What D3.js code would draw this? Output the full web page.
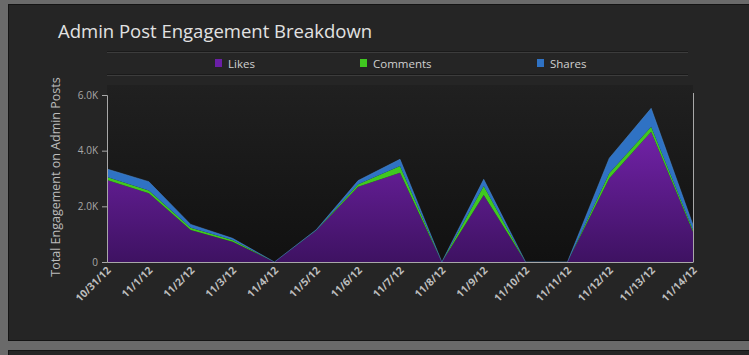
<!DOCTYPE html>
<html><head><meta charset="utf-8">
<script src="https://cdn.jsdelivr.net/npm/d3@7"></script>
<style>
html,body{margin:0;padding:0;background:#6a6a6a;}
svg{display:block;}
</style></head>
<body>
<svg id="c" width="749" height="355"></svg>
<script>
const dates = ["10/31/12","11/1/12","11/2/12","11/3/12","11/4/12","11/5/12","11/6/12","11/7/12","11/8/12","11/9/12","11/10/12","11/11/12","11/12/12","11/13/12","11/14/12"];
const likes    = [2950, 2470, 1150, 730, 0, 1130, 2700, 3210, 0, 2410, 0, 0, 3010, 4680, 1090];
const comments = [ 100,   95,   80,  60, 0,   10,   95,  240, 0,  320, 0, 0,  180,  180,   60];
const shares   = [ 290,  320,  120,  60, 0,   20,  130,  240, 0,  240, 0, 0,  540,  660,  180];
const seriesNames = ["Likes","Comments","Shares"];
const yTicks = [0, 2000, 4000, 6000];
const yTickLabels = ["0","2.0K","4.0K","6.0K"];

const svg = d3.select("#c");
const W = 749, H = 355;
const m = {left:107, right:693, top:95, bottom:262};
const FONT = "'Open Sans', 'Noto Sans', sans-serif";

const defs = svg.append("defs");
const gp = defs.append("linearGradient").attr("id","gPurple").attr("x1",0).attr("y1",0).attr("x2",0).attr("y2",1);
gp.append("stop").attr("offset","0%").attr("stop-color","#7222a8");
gp.append("stop").attr("offset","100%").attr("stop-color","#3e1262");
const gb = defs.append("linearGradient").attr("id","gBg").attr("x1",0).attr("y1",0).attr("x2",0).attr("y2",1);
gb.append("stop").attr("offset","0%").attr("stop-color","#202020");
gb.append("stop").attr("offset","100%").attr("stop-color","#111111");

// outer panels
svg.append("rect").attr("x",0).attr("y",0).attr("width",W).attr("height",H).attr("fill","#6a6a6a");
svg.append("rect").attr("x",8.5).attr("y",4.5).attr("width",W).attr("height",336).attr("fill","#252525").attr("stroke","#141414");
svg.append("rect").attr("x",8.5).attr("y",350.5).attr("width",W).attr("height",20).attr("fill","#252525").attr("stroke","#141414");

// title
svg.append("text").attr("x",58).attr("y",38).text("Admin Post Engagement Breakdown")
  .attr("font-family",FONT).attr("font-size",18.5).attr("fill","#e2e2e2");

// legend band lines
[[51.5,"#1a1a1a"],[52.5,"#3c3c3c"],[74.5,"#1a1a1a"],[75.5,"#3c3c3c"]].forEach(([yy,c])=>{
  svg.append("line").attr("x1",107).attr("x2",688).attr("y1",yy).attr("y2",yy).attr("stroke",c);
});

const colors = {Likes:"url(#gPurple)", Comments:"#40c820", Shares:"#2f72c4"};
const swatch = {Likes:"#6a1fa6", Comments:"#40c820", Shares:"#2f72c4"};
const legX = [215, 360, 537];
seriesNames.forEach((n,i)=>{
  svg.append("rect").attr("x",legX[i]).attr("y",59).attr("width",7).attr("height",8).attr("fill",swatch[n]);
  svg.append("text").attr("x",legX[i]+13).attr("y",68).text(n)
    .attr("font-family",FONT).attr("font-size",11.5).attr("fill","#d0d0d0");
});

// plot bg
svg.append("rect").attr("x",m.left).attr("y",85).attr("width",m.right-m.left).attr("height",m.bottom-85).attr("fill","url(#gBg)");

const x = d3.scalePoint().domain(dates).range([m.left, m.right]);
const y = d3.scaleLinear().domain([0,6000]).range([m.bottom, m.top]);

const table = dates.map((d,i)=>({date:d, Likes:likes[i], Comments:comments[i], Shares:shares[i]}));
const stack = d3.stack().keys(seriesNames)(table);
const area = d3.area().x(d=>x(d.data.date)).y0(d=>y(d[0])).y1(d=>y(d[1]));
svg.append("g").selectAll("path").data(stack).join("path")
  .attr("d",area).attr("fill",d=>colors[d.key]);
svg.append("path").datum(stack[2]).attr("d",d3.line().x(d=>x(d.data.date)).y(d=>y(d[1])))
  .attr("fill","none").attr("stroke","#4a88cc").attr("stroke-width",0.8).attr("opacity",0.7);

// axes
const axisColor = "#a8a8a8";
const yAxis = svg.append("g").attr("transform",`translate(${m.left},0)`)
  .call(d3.axisLeft(y).tickValues(yTicks).tickFormat((d,i)=>yTickLabels[i]).tickSize(5).tickPadding(4));
yAxis.select(".domain").attr("stroke",axisColor);
yAxis.selectAll(".tick line").attr("stroke",axisColor);
yAxis.selectAll("text").attr("fill","#a8a8a8").attr("font-size",10).attr("font-family",FONT);

const xAxis = svg.append("g").attr("transform",`translate(0,${m.bottom})`)
  .call(d3.axisBottom(x).tickSize(0).tickSizeOuter(0));
xAxis.select(".domain").attr("stroke",axisColor);
xAxis.selectAll("text").attr("fill","#bdbdbd").attr("font-size",10.5).attr("font-weight","bold")
  .attr("font-family",FONT)
  .attr("text-anchor","end").attr("dy",0).attr("y",0)
  .attr("transform","translate(4,9) rotate(-45)");

svg.append("line").attr("x1",m.right+0.5).attr("x2",m.right+0.5).attr("y1",93).attr("y2",m.bottom).attr("stroke",axisColor);

// y title
svg.append("text").attr("transform",`translate(60,177) rotate(-90)`).attr("text-anchor","middle")
  .text("Total Engagement on Admin Posts").attr("font-family",FONT)
  .attr("font-size",12.5).attr("fill","#bcbcbc");
</script>
</body></html>
